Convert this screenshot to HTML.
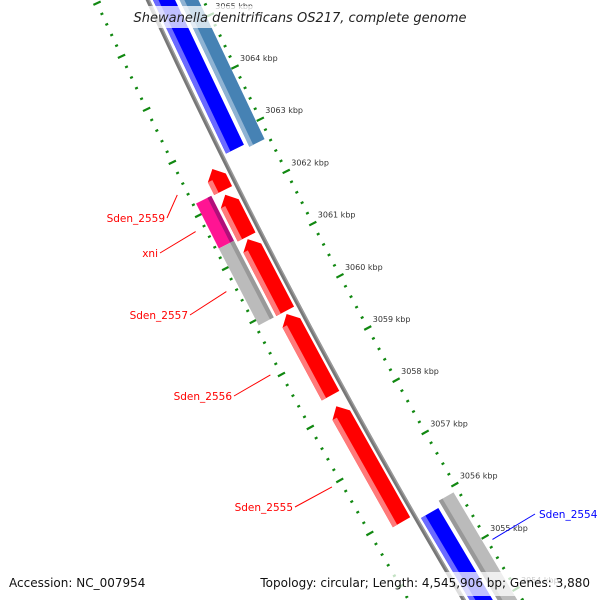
<!DOCTYPE html>
<html><head><meta charset="utf-8"><style>
html,body{margin:0;background:#fff;width:600px;height:600px;overflow:hidden}
svg{display:block;font-family:"DejaVu Sans","Liberation Sans",sans-serif}
</style></head><body>
<svg id="map" width="600" height="600" viewBox="0 0 600 600" xmlns="http://www.w3.org/2000/svg" overflow="hidden">
<g id="ticks"></g>
<g id="backbone"></g>
<g id="features"></g>
<g id="labels"></g>
<rect x="124" y="6" width="352" height="22" fill="#fff" fill-opacity="0.75"/>
<text x="300" y="22" text-anchor="middle" font-size="13" font-style="italic" fill="#222">Shewanella denitrificans OS217, complete genome</text>
<rect x="4" y="572" width="136" height="24" fill="#fff" fill-opacity="0.75"/>
<text x="9" y="587" font-size="12" fill="#111">Accession: NC_007954</text>
<rect x="256" y="572" width="340" height="24" fill="#fff" fill-opacity="0.75"/>
<text x="590" y="587" text-anchor="end" font-size="12" fill="#111">Topology: circular; Length: 4,545,906 bp; Genes: 3,880</text>
</svg>
<script>
// data (kbp)
const majorTicks=[3065,3064,3063,3062,3061,3060,3059,3058,3057,3056,3055,3054];
const tickLabels=["3065 kbp","3064 kbp","3063 kbp","3062 kbp","3061 kbp","3060 kbp","3059 kbp","3058 kbp","3057 kbp","3056 kbp","3055 kbp","3054 kbp"];
const featNames=["f-blue","f-steel","Sden_2559a","Sden_2559","Sden_2557","Sden_2556","Sden_2555","xni","Sden_2558","Sden_2554","f-gray-fwd"];
const featStart=[3062.73,3062.66,3062.19,3061.31,3059.9,3058.3,3055.9,3061.35,3059.9,3053,3053];
const featEnd=[3066,3066,3062.6,3062.11,3061.27,3059.85,3058.1,3062.2,3061.35,3055.8,3055.9];
const featRing=[1,2,-1,-1,-1,-1,-1,-2,-2,1,2];
const featArrow=[1,0,1,1,1,1,1,0,0,0,0];
const featColor=["#0000ff","#4682b4","#ff0000","#ff0000","#ff0000","#ff0000","#ff0000","#ff1493","#bbbbbb","#0000ff","#bbbbbb"];
const featLight=["#6b6bff","#8fb3d3","#ff7a7a","#ff7a7a","#ff7a7a","#ff7a7a","#ff7a7a","#b0107a","#999999","#6b6bff","#999999"];
const labelText=["Sden_2559","xni","Sden_2557","Sden_2556","Sden_2555","Sden_2554"];
const labelBp=[3062.47,3061.78,3060.65,3059.08,3056.97,3054.9];
const labelColor=["#ff0000","#ff0000","#ff0000","#ff0000","#ff0000","#0000ff"];
const labelPos=[[170,222],[163,257],[193,319],[237,400],[298,511],[535,518]];

const NS="http://www.w3.org/2000/svg";
function pt(bp,r){
  const k=3064-bp;
  const cx=235+25*k+0.31*k*k, cy=67+52.2*k;
  const dx=25+0.62*k, dy=52.2, L=Math.hypot(dx,dy);
  const nx=dy/L, ny=-dx/L;
  return [cx+nx*r, cy+ny*r];
}
const ringR={1:[-46,-26],2:[-22,-5],"-1":[-55,-75],"-2":[-78,-95]};
function mk(tag,attrs,parent){const e=document.createElementNS(NS,tag);for(const a in attrs)e.setAttribute(a,attrs[a]);parent.appendChild(e);return e;}
const tg=document.getElementById('ticks');
for(let i=0;i<=70;i++){
  const bp=3066-i*0.2; const major=Math.abs(bp-Math.round(bp))<1e-6;
  [0,-98].forEach(r=>{
    const h=major?4:1.5;
    const a=pt(bp,r-h),b=pt(bp,r+h);
    const l=mk('line',{x1:a[0],y1:a[1],x2:b[0],y2:b[1],stroke:'#118811','stroke-width':2.2},tg);
    
    
  });
}
majorTicks.forEach((bp,i)=>{
  const p=pt(bp,0);
  const t=mk('text',{x:p[0]+5,y:p[1]-6,'font-size':8,fill:'#333'},tg);
  t.textContent=tickLabels[i];
  
  
});
// backbone
const bg=document.getElementById('backbone');
function band(lo,hi,r1,r2){
  const pts=[];
  for(let b=hi;b>=lo-1e-9;b-=0.25)pts.push(pt(b,r1));
  for(let b=lo;b<=hi+1e-9;b+=0.25)pts.push(pt(b,r2));
  return pts.map(q=>q.join(',')).join(' ');
}
[[-48.5,-52.5,'#777'],[-48.5,-50,'#999']].forEach(([r1,r2,c])=>{
  const p=mk('polygon',{points:band(3052,3067,r1,r2),fill:c},bg);
  
  
});
// features
const fg=document.getElementById('features');
featNames.forEach((n,i)=>{
  const rr=ringR[featRing[i]]; const lo=featStart[i],hi=featEnd[i];
  const ah=0.17; const rm=(rr[0]+rr[1])/2;
  let pts;
  if(featArrow[i]) pts=[pt(lo,rr[0]),pt(hi-ah,rr[0]),pt(hi,rm),pt(hi-ah,rr[1]),pt(lo,rr[1])];
  else pts=[pt(lo,rr[0]),pt(hi,rr[0]),pt(hi,rr[1]),pt(lo,rr[1])];
  const p=mk('polygon',{points:pts.map(q=>q.join(',')).join(' '),fill:featColor[i]},fg);
  
  
  const w=rr[1]-rr[0]; const inner=featRing[i]===-1;
  const s=inner?rr[1]-w*0.25:rr[0]+w*0.25;
  const o=inner?rr[1]:rr[0];
  const e=featArrow[i]?hi-ah:hi;
  const A=[pt(lo,s),pt(e,s),pt(e,o),pt(lo,o)];
  const sp=mk('polygon',{points:A.map(q=>q.join(',')).join(' '),fill:featLight[i]},fg);
  
  
});
// labels
const lg=document.getElementById('labels');
labelText.forEach((t,i)=>{
  const fwd=labelColor[i]==='#0000ff';
  const a=pt(labelBp[i],fwd?5:-108);
  const lp=labelPos[i];
  const l=mk('line',{x1:a[0],y1:a[1],x2:fwd?lp[0]:lp[0]-3,y2:lp[1]-4,stroke:labelColor[i],'stroke-width':1},lg);
  
  
  const tx=mk('text',{x:fwd?lp[0]+4:lp[0]-5,y:lp[1],'font-size':10.5,fill:labelColor[i],'text-anchor':fwd?'start':'end'},lg);
  tx.textContent=t;
  
  
});
</script>
</body></html>
